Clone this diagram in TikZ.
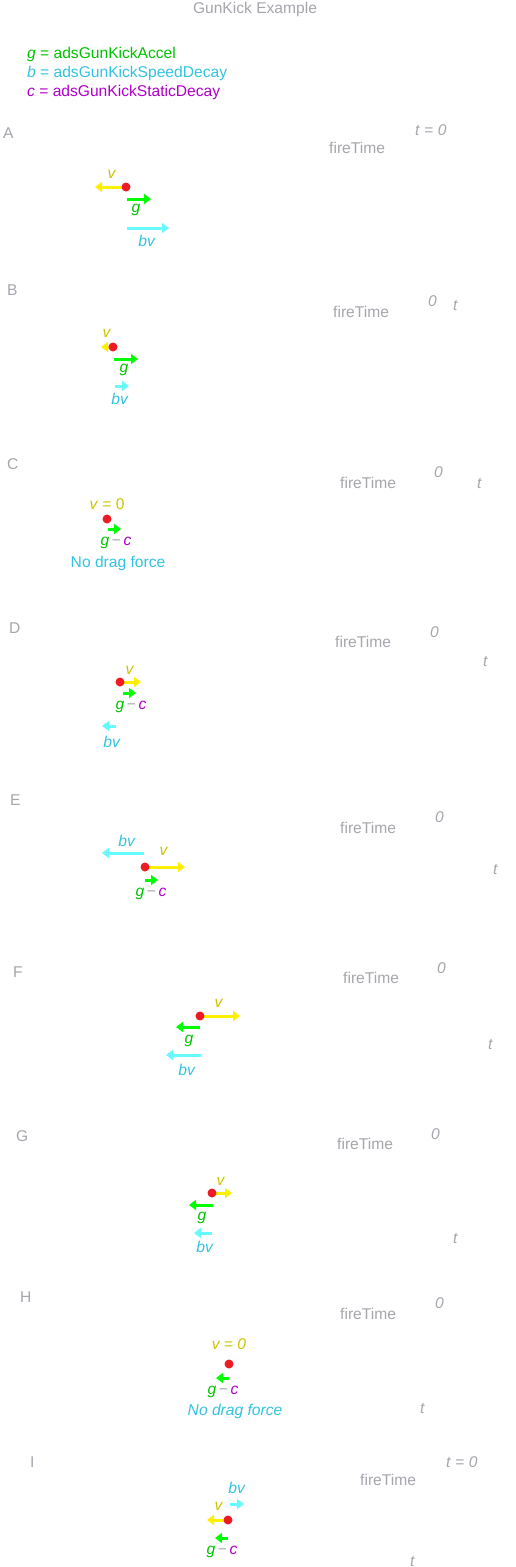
\documentclass[tikz,border=0pt]{standalone}
\usepackage{fontspec}
\setmainfont{Liberation Sans}
\usetikzlibrary{arrows.meta}
\definecolor{wgray}{RGB}{165,165,172}
\definecolor{gtxt}{RGB}{0,195,0}
\definecolor{garr}{RGB}{0,255,0}
\definecolor{ctxt}{RGB}{50,195,225}
\definecolor{carr}{RGB}{102,250,255}
\definecolor{ptxt}{RGB}{175,0,200}
\definecolor{ytxt}{RGB}{205,195,0}
\definecolor{yarr}{RGB}{255,240,0}
\definecolor{rdot}{RGB}{237,28,36}
\newcommand{\gm}{\textcolor{gtxt}{\textit{g}}}
\newcommand{\cm}{\textcolor{ptxt}{\textit{c}}}
\newcommand{\mn}{\textcolor{wgray}{\,\char"2212\,}}
\begin{document}
\begin{tikzpicture}[x=1pt,y=-1pt,
  lbl/.style={font=\fontsize{15.6}{18}\selectfont, inner sep=0pt},
  wtxt/.style={lbl, text=wgray, anchor=base west},
  vlbl/.style={lbl, text=ytxt},
  glbl/.style={lbl, text=gtxt},
  clbl/.style={lbl, text=ctxt},
  arr/.style={line width=3pt, -{Triangle[length=7pt,width=10pt]}},
  yv/.style={arr, draw=yarr},
  gv/.style={arr, draw=garr},
  cv/.style={arr, draw=carr},
  dotnode/.style={circle, fill=rdot, minimum size=9pt, inner sep=0pt}]
\useasboundingbox (0,0) rectangle (515,1567);
% title and legend
\node[wtxt, anchor=base] (title) at (255,13) {GunKick Example};
\node[lbl, anchor=base west, text=gtxt] (legg) at (27,58.5) {\textit{g} = adsGunKickAccel};
\node[lbl, anchor=base west, text=ctxt] (legb) at (27,77.5) {\textit{b} = adsGunKickSpeedDecay};
\node[lbl, anchor=base west, text=ptxt] (legc) at (27,96.5) {\textit{c} = adsGunKickStaticDecay};
% panel letters
\node[wtxt] (lA) at (3,138) {A};
\node[wtxt] (lB) at (7,295) {B};
\node[wtxt] (lC) at (7,469) {C};
\node[wtxt] (lD) at (9,633) {D};
\node[wtxt] (lE) at (10,805) {E};
\node[wtxt] (lF) at (13,977) {F};
\node[wtxt] (lG) at (16,1141) {G};
\node[wtxt] (lH) at (20,1302) {H};
\node[wtxt] (lI) at (30,1467) {I};
% fireTime / 0 / t labels
\node[wtxt] (tA) at (415,135) {\textit{t} = \textit{0}};
\node[wtxt] (fA) at (329,153) {fireTime};
\node[wtxt] (fB) at (333,317) {fireTime};
\node[wtxt] (zB) at (428,306) {\textit{0}};
\node[wtxt] (tB) at (453,310) {\textit{t}};
\node[wtxt] (fC) at (340,488) {fireTime};
\node[wtxt] (zC) at (434,477) {\textit{0}};
\node[wtxt] (tC) at (477,488) {\textit{t}};
\node[wtxt] (fD) at (335,647) {fireTime};
\node[wtxt] (zD) at (430,637) {\textit{0}};
\node[wtxt] (tD) at (483,666) {\textit{t}};
\node[wtxt] (fE) at (340,833) {fireTime};
\node[wtxt] (zE) at (435,822) {\textit{0}};
\node[wtxt] (tE) at (493,874) {\textit{t}};
\node[wtxt] (fF) at (343,983) {fireTime};
\node[wtxt] (zF) at (437,973) {\textit{0}};
\node[wtxt] (tF) at (488,1049) {\textit{t}};
\node[wtxt] (fG) at (337,1149) {fireTime};
\node[wtxt] (zG) at (431,1139) {\textit{0}};
\node[wtxt] (tG) at (453,1243) {\textit{t}};
\node[wtxt] (fH) at (340,1319) {fireTime};
\node[wtxt] (zH) at (435,1308) {\textit{0}};
\node[wtxt] (tH) at (420,1413) {\textit{t}};
\node[wtxt] (tI0) at (446,1467) {\textit{t} = \textit{0}};
\node[wtxt] (fI) at (360,1485) {fireTime};
\node[wtxt] (tI) at (410,1566) {\textit{t}};
% ---------- Panel A
\coordinate (pA) at (126,187);
\coordinate (yA) at (95,187);
\coordinate (gA0) at (127,199); \coordinate (gA1) at (151,199);
\coordinate (cA0) at (127,228); \coordinate (cA1) at (169,228);
\draw[yv] (pA) -- (yA);
\draw[gv] (gA0) -- (gA1);
\draw[cv] (cA0) -- (cA1);
\node[dotnode] (dA) at (pA) {};
\node[vlbl] (vA) at (112,174) {\textit{v}};
\node[glbl] (gAl) at (136,210) {\textit{g}};
\node[clbl] (bA) at (147,241) {\textit{bv}};
% ---------- Panel B
\coordinate (pB) at (113,347);
\coordinate (yB) at (101,347);
\coordinate (gB0) at (114,359); \coordinate (gB1) at (138,359);
\coordinate (cB0) at (115,386); \coordinate (cB1) at (129,386);
\draw[yv] (pB) -- (yB);
\draw[gv] (gB0) -- (gB1);
\draw[cv] (cB0) -- (cB1);
\node[dotnode] (dB) at (pB) {};
\node[vlbl] (vB) at (107,333) {\textit{v}};
\node[glbl] (gBl) at (124,370) {\textit{g}};
\node[clbl] (bB) at (120,399) {\textit{bv}};
% ---------- Panel C
\coordinate (pC) at (107,519);
\coordinate (gC0) at (108,529); \coordinate (gC1) at (121,529);
\draw[gv] (gC0) -- (gC1);
\node[dotnode] (dC) at (pC) {};
\node[vlbl] (vC) at (107,504) {\textit{v} = 0};
\node[lbl] (gcC) at (116,543) {\gm\mn\cm};
\node[clbl] (ndC) at (118,563) {No drag force};
% ---------- Panel D
\coordinate (pD) at (120,682);
\coordinate (yD) at (141,682);
\coordinate (gD0) at (123,693); \coordinate (gD1) at (136,693);
\coordinate (cD0) at (116,726); \coordinate (cD1) at (102,726);
\draw[yv] (pD) -- (yD);
\draw[gv] (gD0) -- (gD1);
\draw[cv] (cD0) -- (cD1);
\node[dotnode] (dD) at (pD) {};
\node[vlbl] (vD) at (130,670) {\textit{v}};
\node[lbl] (gcD) at (131,707) {\gm\mn\cm};
\node[clbl] (bD) at (112,742) {\textit{bv}};
% ---------- Panel E
\coordinate (pE) at (145,867);
\coordinate (yE) at (185,867);
\coordinate (gE0) at (145,880); \coordinate (gE1) at (158,880);
\coordinate (cE0) at (144,853); \coordinate (cE1) at (102,853);
\draw[yv] (pE) -- (yE);
\draw[gv] (gE0) -- (gE1);
\draw[cv] (cE0) -- (cE1);
\node[dotnode] (dE) at (pE) {};
\node[clbl] (bE) at (127,841) {\textit{bv}};
\node[vlbl] (vE) at (164,851) {\textit{v}};
\node[lbl] (gcE) at (151,894) {\gm\mn\cm};
% ---------- Panel F
\coordinate (pF) at (200,1016);
\coordinate (yF) at (240,1016);
\coordinate (gF0) at (200,1027); \coordinate (gF1) at (176,1027);
\coordinate (cF0) at (201,1055); \coordinate (cF1) at (166,1055);
\draw[yv] (pF) -- (yF);
\draw[gv] (gF0) -- (gF1);
\draw[cv] (cF0) -- (cF1);
\node[dotnode] (dF) at (pF) {};
\node[vlbl] (vF) at (219,1003) {\textit{v}};
\node[glbl] (gFl) at (189,1041) {\textit{g}};
\node[clbl] (bF) at (187,1070) {\textit{bv}};
% ---------- Panel G
\coordinate (pG) at (212,1193);
\coordinate (yG) at (232,1193);
\coordinate (gG0) at (213,1205); \coordinate (gG1) at (189,1205);
\coordinate (cG0) at (212,1233); \coordinate (cG1) at (194,1233);
\draw[yv] (pG) -- (yG);
\draw[gv] (gG0) -- (gG1);
\draw[cv] (cG0) -- (cG1);
\node[dotnode] (dG) at (pG) {};
\node[vlbl] (vG) at (221,1181) {\textit{v}};
\node[glbl] (gGl) at (202,1218) {\textit{g}};
\node[clbl] (bG) at (205,1247) {\textit{bv}};
% ---------- Panel H
\coordinate (pH) at (229,1364);
\coordinate (gH0) at (229,1378); \coordinate (gH1) at (216,1378);
\draw[gv] (gH0) -- (gH1);
\node[dotnode] (dH) at (pH) {};
\node[vlbl] (vH) at (229,1344) {\textit{v = 0}};
\node[lbl] (gcH) at (223,1392) {\gm\mn\cm};
\node[clbl] (ndH) at (235,1411) {\textit{No drag force}};
% ---------- Panel I
\coordinate (pI) at (228,1520);
\coordinate (yI) at (207,1520);
\coordinate (gI0) at (228,1538); \coordinate (gI1) at (215,1538);
\coordinate (cI0) at (230,1504); \coordinate (cI1) at (244,1504);
\draw[yv] (pI) -- (yI);
\draw[gv] (gI0) -- (gI1);
\draw[cv] (cI0) -- (cI1);
\node[dotnode] (dI) at (pI) {};
\node[clbl] (bI) at (237,1488) {\textit{bv}};
\node[vlbl] (vI) at (219,1506) {\textit{v}};
\node[lbl] (gcI) at (222,1552) {\gm\mn\cm};
\end{tikzpicture}
\end{document}
